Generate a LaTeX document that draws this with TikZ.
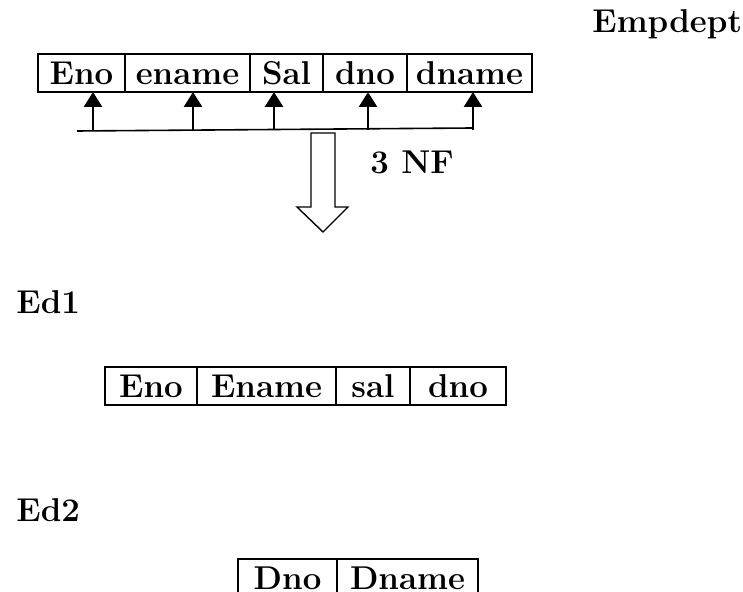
\documentclass[tikz,border=0pt]{standalone}
\usepackage{fontspec}
\usetikzlibrary{positioning, arrows.meta}
\tikzset{
  cell/.style={draw, line width=1.1pt, outer sep=0pt, minimum width=#1,
    minimum height=19pt, text height=11.3pt, text depth=0pt, inner sep=0pt},
  lbl/.style={inner sep=0pt, anchor=base west},
  fk/.style={line width=1.3pt, -{Triangle[width=9pt, length=7.5pt]}}
}

\begin{document}
\begin{tikzpicture}[x=0.5pt, y=-0.5pt, font=\fontsize{16.5}{19}\selectfont\bfseries]
  \useasboundingbox (0,0) rectangle (743,592);

  % Define the relation before the split
  \node[lbl] (empdept) at (592,33) {Empdept};
  \node[cell=43.5pt, anchor=north west] (eno) at (38,54) {Eno};
  \node[cell=62.5pt, right=0pt of eno] (ename) {ename};
  \node[cell=36.5pt, right=0pt of ename] (sal) {Sal};
  \node[cell=42pt, right=0pt of sal] (dno) {dno};
  \node[cell=62.5pt, right=0pt of dno] (dname) {dname};

  % Dependency arrows from the base line
  \coordinate (base-start) at (77,131);
  \coordinate (base-end) at (473,128);
  \draw[line width=0.8pt] (base-start) -- (base-end);
  \foreach \x/\c in {93/eno, 193/ename, 274/sal, 368/dno, 473/dname} {
    \coordinate (base-\c) at (\x,130);
    \draw[fk] (base-\c) -- (base-\c |- \c.south);
  }

  % Hollow arrow for the decomposition
  \draw[line width=0.7pt] (311,133) -- (335,133) -- (335,207) -- (348,207)
    -- (323,232) -- (297,207) -- (311,207) -- cycle;
  \node[lbl] (nf) at (370,174) {3 NF};

  % Define the two resulting relations
  \node[lbl] (ed1) at (16,314) {Ed1};
  \node[cell=46pt, anchor=north west] (ed1-eno) at (105,367) {Eno};
  \node[cell=69.5pt, right=0pt of ed1-eno] (ed1-ename) {Ename};
  \node[cell=37pt, right=0pt of ed1-ename] (ed1-sal) {sal};
  \node[cell=48pt, right=0pt of ed1-sal] (ed1-dno) {dno};

  \node[lbl] (ed2) at (16,521) {Ed2};
  \node[cell=49.5pt, anchor=north west] (ed2-dno) at (238,559) {Dno};
  \node[cell=70.5pt, right=0pt of ed2-dno] (ed2-dname) {Dname};
\end{tikzpicture}
\end{document}
